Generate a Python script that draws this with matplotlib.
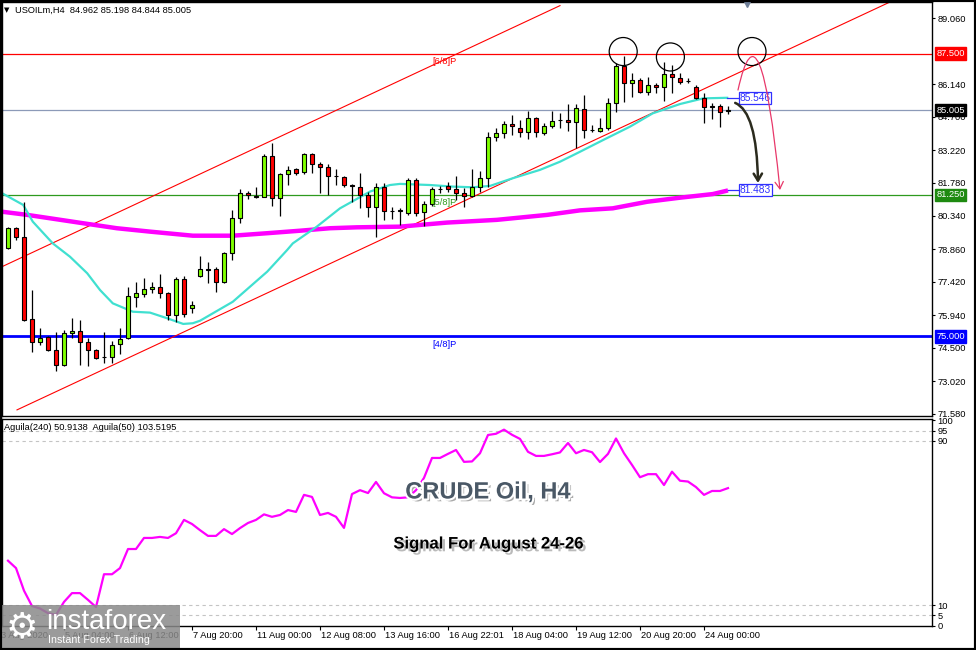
import numpy as np
import matplotlib
matplotlib.use('Agg')
import matplotlib.pyplot as plt
import matplotlib.patheffects as pe
import matplotlib.transforms as mtrans
from matplotlib.patches import Rectangle, Ellipse, FancyArrowPatch
from matplotlib.path import Path

plt.rcParams['font.family'] = ['Liberation Sans', 'DejaVu Sans']

# H4 candles, USOILm (bar 0 .. 90)
opens = [78.89, 79.78, 79.41, 75.76, 74.77, 74.96, 74.40, 73.74, 75.14, 75.24,
         74.74, 74.40, 74.10, 74.10, 74.65, 74.92, 76.76, 76.86, 77.08, 77.20,
         76.91, 75.95, 77.52, 76.24, 77.67, 77.97, 77.97, 77.42, 78.67, 80.22,
         81.35, 81.20, 81.17, 82.97, 81.13, 82.17, 82.39, 82.28, 83.06, 82.62,
         82.47, 82.10, 82.06, 81.69, 81.62, 81.25, 80.71, 81.62, 80.55, 80.56,
         80.44, 81.91, 80.51, 80.84, 81.50, 81.65, 81.50, 81.32, 81.22, 81.59,
         82.01, 83.80, 83.98, 84.39, 84.23, 84.05, 84.64, 84.00, 84.31, 84.56,
         84.56, 84.49, 85.05, 84.12, 84.08, 84.20, 85.33, 86.95, 86.21, 86.33,
         85.82, 86.11, 86.01, 86.60, 86.43, 86.29, 86.01, 85.52, 85.18, 85.18,
         84.962]
highs = [79.85, 79.85, 80.95, 77.05, 75.36, 75.02, 75.21, 75.28, 75.80, 75.73,
         74.92, 74.43, 75.21, 74.81, 75.36, 77.20, 77.42, 77.57, 77.42, 77.76,
         76.98, 77.64, 77.67, 76.58, 78.55, 78.30, 78.05, 78.74, 80.59, 81.50,
         81.44, 81.62, 83.06, 83.56, 82.24, 82.53, 82.46, 83.12, 83.12, 82.72,
         82.62, 82.39, 82.09, 81.72, 82.24, 81.40, 81.79, 81.77, 80.73, 80.66,
         81.99, 81.99, 81.00, 81.62, 81.65, 81.84, 82.10, 81.55, 82.39, 82.32,
         84.05, 84.20, 84.50, 84.79, 84.56, 84.98, 84.68, 84.42, 84.98, 84.86,
         85.27, 85.27, 85.67, 84.34, 84.64, 85.52, 87.07, 87.39, 86.63, 86.41,
         86.48, 86.19, 87.14, 86.99, 86.66, 86.41, 86.11, 85.77, 85.30, 85.27,
         85.198]
lows = [78.85, 79.26, 75.69, 74.32, 74.62, 74.37, 73.48, 73.69, 74.92, 73.74,
        73.69, 73.99, 73.81, 73.81, 74.22, 74.87, 76.31, 76.76, 76.91, 76.68,
        75.73, 75.65, 75.87, 76.05, 77.64, 77.35, 76.98, 77.38, 78.38, 80.03,
        81.07, 81.13, 81.17, 80.76, 80.33, 81.69, 82.13, 82.18, 82.21, 81.33,
        81.25, 81.69, 81.59, 80.95, 80.66, 80.27, 79.38, 80.15, 80.18, 79.92,
        80.37, 80.32, 79.88, 80.76, 81.32, 81.40, 81.03, 80.73, 81.18, 81.40,
        81.62, 83.65, 83.75, 83.90, 83.83, 83.71, 83.83, 83.90, 84.20, 84.20,
        84.09, 83.31, 83.76, 84.05, 84.05, 84.12, 84.93, 85.37, 85.60, 85.77,
        85.67, 85.77, 85.41, 85.75, 86.16, 86.19, 85.48, 84.42, 84.60, 84.24,
        84.844]
closes = [79.78, 79.41, 75.72, 74.77, 74.92, 74.40, 73.74, 75.14, 75.24, 74.74,
          74.40, 74.06, 74.08, 74.62, 74.87, 76.79, 76.91, 77.08, 77.20, 76.91,
          75.95, 77.52, 75.99, 76.39, 77.97, 77.95, 77.42, 78.67, 80.22, 81.33,
          81.25, 81.17, 82.97, 81.13, 82.18, 82.36, 82.24, 83.06, 82.62, 82.47,
          82.10, 82.08, 81.69, 81.66, 81.25, 80.71, 81.62, 80.56, 80.55, 80.57,
          81.91, 80.44, 80.84, 81.50, 81.52, 81.50, 81.32, 81.22, 81.59, 82.01,
          83.80, 83.98, 84.37, 84.30, 84.05, 84.64, 84.02, 84.31, 84.53, 84.55,
          84.49, 85.08, 84.12, 84.10, 84.20, 85.33, 86.95, 86.21, 86.33, 85.82,
          86.11, 86.01, 86.58, 86.48, 86.26, 86.27, 85.52, 85.15, 85.16, 84.93,
          85.005]

# moving averages, read at bar positions
ma_fast_bar = [-0.75, 1.9, 3.1, 5.6, 7.75, 9.9, 11.5, 13.1, 15.6, 17.75, 19.9, 21.9,
               23.1, 24, 28.1, 32.4, 34.9, 35.6, 38.6, 41.5, 45.25, 47.75, 49, 52.75,
               55.6, 58.1, 60.25, 63.1, 66.5, 69, 71.5, 74.4, 77.75, 80.6, 84, 86.9, 89.9]
ma_fast = [81.33, 80.81, 80.07, 79.11, 78.52, 77.79, 77.05, 76.46, 76.09, 76.05, 75.80,
           75.55, 75.58, 75.69, 76.53, 77.86, 78.82, 79.11, 79.85, 80.66, 81.40, 81.69,
           81.74, 81.69, 81.62, 81.59, 81.65, 81.99, 82.36, 82.72, 83.16, 83.68, 84.27,
           84.86, 85.27, 85.52, 85.546]
ma_slow_bar = [-0.75, 2.4, 5.25, 9.4, 13.6, 17.75, 23.1, 28.1, 32.4, 36.5, 40.25, 43.6,
               49, 54.9, 61.1, 67.4, 71.5, 75.6, 79.9, 84, 88.1, 90]
ma_slow = [80.51, 80.37, 80.22, 80.00, 79.78, 79.63, 79.45, 79.45, 79.56, 79.67, 79.78,
           79.82, 79.85, 80.03, 80.15, 80.37, 80.57, 80.66, 80.95, 81.13, 81.29, 81.45]

# Aguila oscillator, one value per bar
aguila = [31.6, 28, 17, 9.5, 8.3, 6, 5.2, 11.5, 15.8, 15.8,
          12.5, 9, 25, 25, 28, 37.3, 37.3, 42.7, 42.7, 43.2,
          42.7, 45, 51.5, 49.5, 46.5, 43.7, 43.7, 47, 44.6, 47.5,
          50, 51.5, 54.2, 53, 53.9, 56.3, 55.4, 63.7, 62.7, 53.9,
          54.9, 53, 47.6, 64.1, 66, 64.6, 70, 64.5, 62.5, 62.2,
          62.5, 66, 72, 81.7, 81.7, 83.7, 85.6, 79.8, 80, 84,
          92.9, 93.5, 95.5, 93, 91, 84.7, 82.7, 82.7, 83.5, 84.4,
          89, 84, 85.6, 84.5, 79.7, 83.7, 91.2, 84, 78.3, 72.3,
          73.8, 73.8, 68.5, 75, 70.6, 70.2, 67.5, 63.7, 65.6, 65.6, 67]

price_ticks = [89.06, 86.14, 84.70, 83.22, 81.78, 80.34, 78.86, 77.42, 75.94, 74.50, 73.02, 71.58]
time_bars = [-1, 7, 15, 23, 31, 39, 47, 55, 63, 71, 79, 87]
time_labels = ['3 Aug 2020', '5 Aug 04:00', '6 Aug 12:00', '7 Aug 20:00', '11 Aug 00:00',
               '12 Aug 08:00', '13 Aug 16:00', '16 Aug 22:01', '18 Aug 04:00',
               '19 Aug 12:00', '20 Aug 20:00', '24 Aug 00:00']

W, H = 976, 650
fig = plt.figure(figsize=(W / 100, H / 100), dpi=100)
fig.patch.set_facecolor('white')


def box(x0, y0, x1, y1):
    return [x0 / W, 1 - y1 / H, (x1 - x0) / W, (y1 - y0) / H]


ax = fig.add_axes(box(2, 2, 932, 416))
ax2 = fig.add_axes(box(2, 419, 932, 626))
for a in (ax, ax2):
    a.set_xlim(-0.75, 115.5)
    for s in a.spines.values():
        s.set_color('black')
        s.set_linewidth(1)
    a.yaxis.tick_right()
    a.tick_params(axis='y', direction='out', length=2.5, pad=1.5, labelsize=6.7, width=0.8)
ax.set_ylim(71.48, 89.78)
ax2.set_ylim(-0.24, 100.7)
ax.set_xticks([])
ax.set_yticks(price_ticks)
ax.set_yticklabels(['%.3f' % v for v in price_ticks])

# horizontal levels
ax.axhline(87.5, color='#ff0000', lw=0.9, zorder=1)
ax.axhline(85.005, color='#8c9ab8', lw=0.9, zorder=1)
ax.axhline(81.25, color='#2e9a1e', lw=0.9, zorder=1)
ax.axhline(75.0, color='#0000ff', lw=2, zorder=1)

# channel
ax.plot([-0.75, 69], [78.08, 89.62], color='#ff0000', lw=0.8, zorder=1)
ax.plot([1.125, 110.25], [71.75, 89.78], color='#ff0000', lw=0.8, zorder=1)

# moving averages
ax.plot(ma_slow_bar, ma_slow, color='#ff00ff', lw=3.2, zorder=2, solid_capstyle='butt')
ax.plot(ma_fast_bar, ma_fast, color='#40e0d0', lw=1.6, zorder=2)

# candles
o = np.array(opens); h = np.array(highs); l = np.array(lows); c = np.array(closes)
idx = np.arange(len(o))
up = c >= o
ax.vlines(idx, l, h, color='black', lw=0.9, zorder=3)
ax.bar(idx, np.maximum(np.abs(c - o), 0.004), bottom=np.minimum(o, c), width=0.62,
       color=np.where(up, '#80ff00', '#ff0000'), edgecolor='black', linewidth=0.8, zorder=4)

# level labels
for txt, y, col in [('[6/8]P', 87.36, '#ff0000'), ('[5/8]P', 81.12, '#2e9a1e'),
                    ('[4/8]P', 74.86, '#0000ff')]:
    ax.text(53.1, y, txt, color=col, fontsize=6.7, va='top', ha='left', zorder=5)

# right-axis highlight boxes
yt = mtrans.blended_transform_factory(ax.transAxes, ax.transData)
for txt, y, bg in [('87.500', 87.5, '#ff0000'), ('85.005', 85.005, '#000000'),
                   ('81.250', 81.25, '#1e8a10'), ('75.000', 75.0, '#0000ff')]:
    ax.text(1.0045, y, txt, transform=yt, color='white', fontsize=6.7, va='center', ha='left',
            clip_on=False, bbox=dict(boxstyle='square,pad=0.18', fc=bg, ec=bg), zorder=6)

# MA value tags
for y, txt, xe in [(85.546, '85.546', 89.9), (81.483, '81.483', 90)]:
    ax.plot([xe, 91.3], [y, y], color='#3030ff', lw=0.9, zorder=5)
    ax.text(91.45, y, txt, color='#3030ff', fontsize=7.3, va='center', ha='left', zorder=6,
            bbox=dict(boxstyle='square,pad=0.08', fc='white', ec='#3030ff', lw=0.9))

# circles around tops
for cx, cy in [(76.9, 87.59), (82.8, 87.35), (93.0, 87.59)]:
    ax.add_patch(Ellipse((cx, cy), 3.5, 1.24, fill=False, ec='black', lw=0.9, zorder=6))

# scenario arrows
black_path = Path([(90.9, 85.32), (93.6, 84.92), (93.75, 81.78)],
                  [Path.MOVETO, Path.CURVE3, Path.CURVE3])
ax.add_patch(FancyArrowPatch(path=black_path, arrowstyle='->,head_length=5,head_width=3',
                             color='#2b2b1e', lw=1.8, zorder=7))
red_path = Path([(91.25, 85.89), (94.0, 90.31), (96.5, 81.47)],
                [Path.MOVETO, Path.CURVE3, Path.CURVE3])
ax.add_patch(FancyArrowPatch(path=red_path, arrowstyle='->,head_length=5,head_width=3',
                             color='#e8386a', lw=0.9, zorder=7))

# shift marker on top
ax.plot([92.4], [1.0], marker='v', ms=7, color='#6f7f98',
        transform=mtrans.blended_transform_factory(ax.transData, ax.transAxes), clip_on=False, zorder=8)

# oscillator panel
for lvl in (95, 90, 10, 5):
    ax2.axhline(lvl, color='#c4c4c4', lw=0.8, ls=(0, (3, 3)), zorder=1)
ax2.plot(idx, aguila, color='#ff00ff', lw=1.6, zorder=2)
ax2.set_yticks([100, 95, 90, 10, 5, 0])
ax2.set_yticklabels(['100', '95', '90', '10', '5', '0'])
ax2.set_xticks(time_bars[1:])
ax2.set_xticklabels([])
ax2.tick_params(axis='x', direction='out', length=3, width=0.8)
for b, lab in zip(time_bars, time_labels):
    ax2.text(b + 0.15, -0.045, lab, transform=mtrans.blended_transform_factory(ax2.transData, ax2.transAxes),
             fontsize=6.7, ha='left', va='center', clip_on=False)

# header texts
fig.text(4 / W, 1 - 10 / H, '\u25bc', fontsize=5, va='center', ha='left', family='DejaVu Sans')
fig.text(15 / W, 1 - 10 / H, 'USOILm,H4  84.962 85.198 84.844 85.005', fontsize=6.7, va='center')
fig.text(4 / W, 1 - 428 / H, 'Aguila(240) 50.9138  Aguila(50) 103.5195', fontsize=6.7, va='center')

# title block
fig.text(488 / W, 1 - 492 / H, 'CRUDE Oil, H4', fontsize=17, fontweight='bold', color='#4a5866',
         ha='center', va='center', zorder=10,
         path_effects=[pe.SimplePatchShadow(offset=(2, -2), shadow_rgbFace='#555555', alpha=0.5),
                       pe.Stroke(linewidth=3, foreground='white'), pe.Normal()])
fig.text(488 / W, 1 - 544 / H, 'Signal For August 24-26', fontsize=12, fontweight='bold', color='black',
         ha='center', va='center', zorder=10,
         path_effects=[pe.SimplePatchShadow(offset=(2, -2), shadow_rgbFace='#777777', alpha=0.5),
                       pe.Normal()])

# watermark logo
fig.add_artist(Rectangle((0, 1 - 648 / H), 180 / W, 43 / H, transform=fig.transFigure,
                         fc='#8a8a8a', ec='none', alpha=0.85, zorder=20))
fig.text(22 / W, 1 - 627 / H, '\u2699', fontsize=26, color='white', ha='center', va='center',
         family='DejaVu Sans', zorder=21)
fig.text(46 / W, 1 - 622 / H, 'instaforex', fontsize=20, color='white', ha='left', va='center', zorder=21)
fig.text(48 / W, 1 - 640 / H, 'Instant Forex Trading', fontsize=7.7, color='white', ha='left',
         va='center', zorder=21)

# outer frame
fig.add_artist(Rectangle((0, 0), 1, 1, transform=fig.transFigure, fill=False, ec='black', lw=3, zorder=30))

fig.savefig('out.png', dpi=100)
